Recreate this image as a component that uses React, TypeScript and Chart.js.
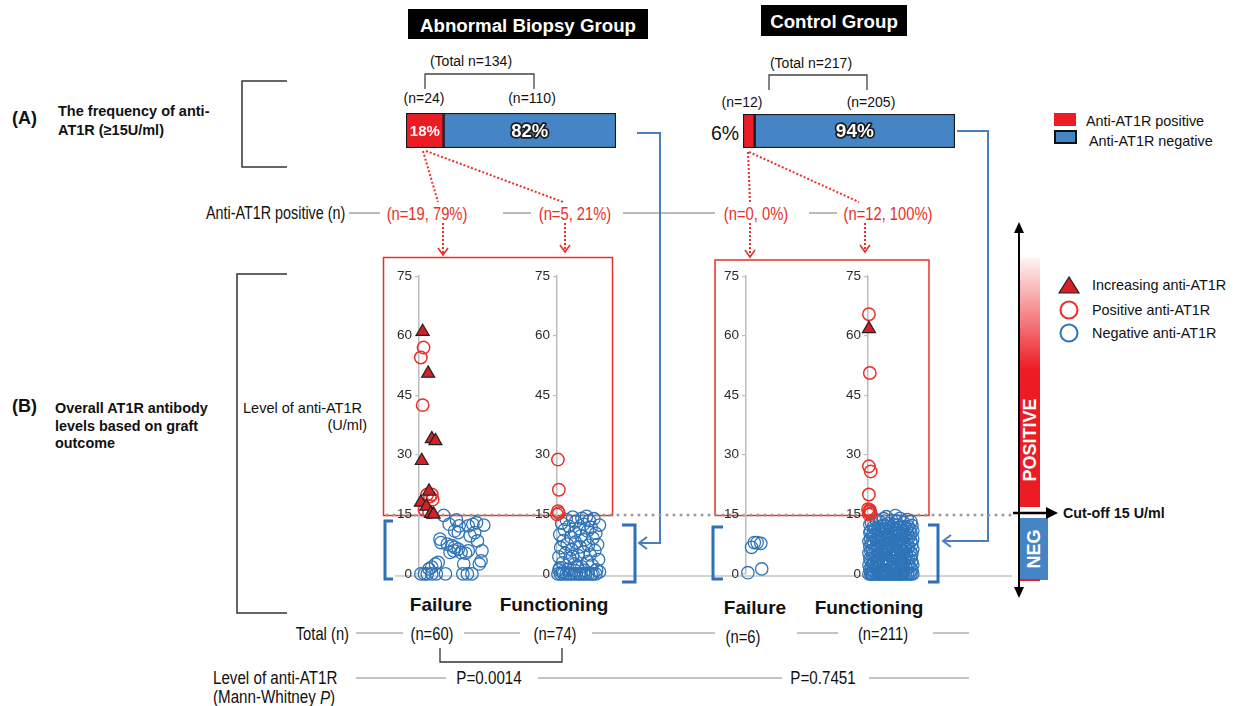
import React, { useEffect, useRef } from 'react';
import { Chart, registerables } from 'chart.js';

Chart.register(...registerables);

const FF = "'Liberation Sans', Arial, Helvetica, sans-serif";

// ---------- data ----------
const groupNames = ['Failure', 'Functioning', 'Failure', 'Functioning'];
const groupTotals = ['(n=60)', '(n=74)', '(n=6)', '(n=211)'];
const positiveLabels = ['(n=19, 79%)', '(n=5, 21%)', '(n=0, 0%)', '(n=12, 100%)'];
const yTicks = [0, 15, 30, 45, 60, 75];
const pValues = ['P=0.0014', 'P=0.7451'];

const abnormalCounts = [24, 110];
const abnormalPct = ['18%', '82%'];
const controlCounts = [12, 205];
const controlPct = ['6%', '94%'];

// Abnormal biopsy – Failure
const failA_increasing = [[0.4, 61], [1.0, 50.5], [1.4, 34], [1.8, 33.5], [0.3, 28.5], [1.1, 20.8], [0.2, 18], [0.8, 17], [1.3, 15.2], [1.6, 15]];
const failA_positive = [[0.5, 57], [0.2, 54.5], [0.4, 42.5], [0.9, 20], [1.4, 20], [1.5, 18.7], [1.2, 19.5], [1.1, 15.5], [0.6, 16.2]];
const failA_negative = [
  [2.7, 14.75], [3.3, 12.5], [4.1, 13.6], [4.4, 12.1], [4.3, 10.4], [3.9, 10.8], [5.4, 12.1], [5.9, 12.5], [6.3, 12.9], [7.1, 12.3],
  [5.6, 9.6], [6.1, 10.4], [6.4, 8.3], [2.3, 8.75], [2.4, 7.9], [3.1, 7.5], [3.6, 7.1], [3.9, 6.7], [4.3, 6.25], [3.8, 5.8],
  [3.4, 5.4], [4.6, 5.4], [5.4, 5.8], [5.1, 5.2], [6.9, 5.8], [6.8, 3.3], [6.6, 2.5], [4.9, 2.5], [1.8, 2.5], [2.1, 2.9],
  [1.1, 1.25], [1.4, 1.7], [0.2, 0], [0.6, 0], [0.9, 0], [1.4, 0], [1.9, 0], [2.9, 0], [4.8, 0], [5.3, 0], [5.8, 0]
];

// Abnormal biopsy – Functioning
const funcA_positive = [[0.1, 28.8], [0.2, 21.2], [0.1, 15.8], [0.2, 15.3], [0.0, 15.0]];
const funcA_negative = [
  [0.1, 0], [0.4, 0], [0.7, 0], [1.0, 0], [1.3, 0], [1.5, 0], [1.8, 0], [2.1, 0], [2.4, 0], [2.6, 0], [2.9, 0], [3.1, 0], [3.4, 0], [3.7, 0], [3.9, 0], [4.2, 0], [0.6, 0.5], [2.0, 0.8],
  [0.3, 1.5], [1.2, 1.2], [2.7, 1.8], [3.8, 2.2], [4.3, 1.0],
  [0.6, 2.8], [1.9, 2.5], [3.3, 3.1], [4.5, 3.6], [1.4, 3.9],
  [0.2, 4.3], [2.3, 4.6], [3.6, 4.8], [0.9, 5.2], [2.9, 5.5],
  [4.1, 5.9], [1.6, 6.1], [0.4, 6.6], [2.5, 6.8], [3.4, 7.2],
  [1.1, 7.5], [4.4, 7.4], [2.0, 8.0], [0.7, 8.4], [3.0, 8.6],
  [3.9, 9.0], [1.5, 9.3], [2.6, 9.6], [0.3, 9.9], [4.2, 10.2],
  [1.9, 10.5], [3.3, 10.8], [0.8, 11.1], [2.4, 11.4], [3.7, 11.7],
  [1.3, 12.0], [4.6, 12.3], [2.9, 12.5], [0.5, 12.8], [2.0, 13.1],
  [3.5, 13.4], [1.0, 13.7], [2.7, 14.0], [4.0, 13.9], [1.7, 14.3],
  [3.2, 14.5], [0.2, 1.0], [2.2, 2.0], [3.0, 0.9], [1.7, 4.4], [4.6, 0.5]
];

// Control – Failure
const failC_negative = [[0.2, 0.3], [1.7, 1.25], [0.6, 6.7], [0.9, 7.9], [1.2, 7.9], [1.6, 7.7]];

// Control – Functioning
const funcC_increasing = [[0.1, 61.7]];
const funcC_positive = [[0.1, 65.4], [0.2, 50.6], [0.1, 27.1], [0.3, 25.8], [0.1, 20], [0.2, 16.1], [0.1, 15.6], [0.3, 15.2], [0.1, 15.0], [0.2, 15.8], [0.0, 16.3]];
const funcC_negative = [
  [0.1, 0], [0.3, 0], [0.5, 0], [0.7, 0], [0.9, 0], [1.1, 0], [1.3, 0], [1.5, 0], [1.7, 0], [1.9, 0], [2.1, 0], [2.3, 0], [2.5, 0], [2.7, 0], [2.9, 0],
  [3.1, 0], [3.3, 0], [3.5, 0], [3.7, 0], [3.9, 0], [4.1, 0], [4.3, 0], [4.5, 0], [4.7, 0], [4.9, 0], [0.4, 0], [1.2, 0], [2.0, 0], [2.8, 0], [3.6, 0],
  [0.6, 0.8], [1.8, 1.1], [3.1, 0.7], [4.2, 1.3], [2.5, 1.4], [0.2, 1.2], [3.8, 0.9], [1.3, 0.6], [4.8, 1.0], [2.9, 1.2], [0.9, 1.4], [3.5, 1.1], [2.1, 0.9],
  [0.4, 1.9], [1.5, 2.2], [2.6, 1.7], [3.7, 2.3], [4.6, 1.8], [0.9, 2.4], [2.0, 2.0], [3.2, 1.6], [4.1, 2.1], [1.2, 1.7], [2.8, 2.4], [0.1, 2.2], [4.9, 2.3],
  [0.7, 2.8], [1.7, 3.1], [2.4, 2.6], [3.4, 3.3], [4.4, 2.9], [0.3, 3.3], [1.1, 2.7], [2.9, 3.0], [3.9, 2.6], [4.8, 3.2], [2.1, 3.4], [0.5, 2.6], [3.6, 2.9],
  [0.2, 3.8], [1.3, 4.1], [2.2, 3.6], [3.0, 4.3], [4.0, 3.7], [4.7, 4.2], [0.8, 4.4], [1.9, 3.9], [2.7, 4.2], [3.5, 3.8], [4.4, 4.0], [1.0, 3.5], [3.2, 3.6],
  [0.5, 4.8], [1.6, 5.1], [2.5, 4.6], [3.3, 5.3], [4.2, 4.9], [0.1, 5.2], [1.1, 4.7], [2.0, 5.4], [2.9, 4.9], [3.8, 4.6], [4.8, 5.0], [1.4, 5.4], [3.6, 5.1],
  [0.3, 5.8], [1.2, 6.2], [2.3, 5.6], [3.1, 6.0], [4.1, 6.3], [4.6, 5.7], [0.8, 6.4], [1.8, 5.9], [2.7, 6.3], [3.7, 5.8], [0.5, 6.0], [2.0, 6.1], [4.9, 6.2],
  [0.2, 6.9], [1.0, 7.2], [1.9, 6.6], [2.8, 7.0], [3.6, 7.3], [4.4, 6.8], [0.6, 7.4], [1.5, 6.9], [2.4, 7.3], [3.3, 6.7], [4.0, 7.1], [4.8, 7.4], [2.1, 7.0],
  [0.4, 7.8], [1.3, 8.1], [2.2, 7.6], [3.0, 8.3], [3.9, 7.9], [4.7, 8.2], [0.9, 8.4], [1.7, 7.7], [2.6, 8.0], [3.5, 8.4], [4.3, 7.6], [0.1, 8.2], [3.2, 7.8],
  [0.3, 8.8], [1.1, 9.1], [2.0, 8.6], [2.9, 9.3], [3.7, 8.9], [4.5, 9.2], [0.7, 9.4], [1.6, 8.7], [2.4, 9.0], [3.3, 8.6], [4.1, 9.4], [4.9, 8.8], [1.9, 9.3],
  [0.5, 9.8], [1.4, 10.1], [2.3, 9.6], [3.1, 10.3], [3.9, 9.9], [4.7, 10.2], [0.2, 10.4], [1.0, 9.6], [1.8, 10.0], [2.7, 10.4], [3.5, 9.7], [4.3, 10.0], [2.5, 9.9],
  [0.3, 10.8], [1.2, 11.1], [2.1, 10.6], [3.0, 11.3], [3.8, 10.9], [4.6, 11.2], [0.8, 11.4], [1.6, 10.7], [2.5, 11.0], [3.4, 10.6], [4.2, 11.4], [4.9, 10.8], [1.9, 11.3],
  [0.6, 11.8], [1.5, 12.1], [2.4, 11.6], [3.2, 12.3], [4.0, 11.9], [4.8, 12.2], [0.2, 12.4], [1.1, 11.6], [2.0, 12.0], [2.8, 12.4], [3.6, 11.7], [4.4, 12.0], [1.8, 12.3],
  [0.4, 12.8], [1.3, 13.1], [2.2, 12.6], [3.1, 13.3], [3.9, 12.9], [4.7, 13.2], [0.9, 13.6], [1.7, 13.9], [2.6, 13.5], [3.5, 14.0], [4.3, 13.7], [2.0, 14.4], [3.0, 14.7]
];

// ---------- styles ----------
const RED = '#e8302a';
const BLUE = '#2f74b8';
const TRI_FILL = '#d42027';
const BAR_RED = '#ed1c24';
const BAR_BLUE = '#4585c5';
const CONNECT = '#4a7ebb';

const toPts = (arr: number[][]) => arr.map(([x, y]) => ({ x, y }));
const negDs = (arr: number[][]) => ({ data: toPts(arr), pointStyle: 'circle', pointRadius: 6.2, borderColor: BLUE, backgroundColor: 'rgba(0,0,0,0)', borderWidth: 1.3, clip: false });
const posDs = (arr: number[][]) => ({ data: toPts(arr), pointStyle: 'circle', pointRadius: 6.2, borderColor: RED, backgroundColor: 'rgba(0,0,0,0)', borderWidth: 1.5, clip: false });
const incDs = (arr: number[][]) => ({ data: toPts(arr), pointStyle: 'triangle', pointRadius: 7.5, borderColor: '#222', backgroundColor: TRI_FILL, borderWidth: 1.2, clip: false });

const panelAxisX = [419, 557, 746, 868];
const panels = [
  [incDs(failA_increasing), posDs(failA_positive), negDs(failA_negative)],
  [posDs(funcA_positive), negDs(funcA_negative)],
  [negDs(failC_negative)],
  [incDs(funcC_increasing), posDs(funcC_positive), negDs(funcC_negative)],
];

const AXW = 30;
const PW = 100;

function ScatterPanel({ axisX, datasets }: { axisX: number; datasets: any[] }) {
  const ref = useRef<HTMLCanvasElement | null>(null);
  useEffect(() => {
    const chart = new Chart(ref.current as HTMLCanvasElement, {
      type: 'scatter',
      data: { datasets },
      options: {
        animation: false,
        responsive: false,
        events: [],
        layout: { padding: { top: 10, bottom: 10, left: 0, right: 0 } },
        plugins: { legend: { display: false }, tooltip: { enabled: false } },
        scales: {
          x: { type: 'linear', min: 0, max: 10, display: false },
          y: {
            min: 0,
            max: 75,
            afterBuildTicks: (s: any) => { s.ticks = yTicks.map((v) => ({ value: v })); },
            afterFit: (s: any) => { s.width = AXW; },
            ticks: { color: '#2a2a2a', padding: 3, font: { family: FF, size: 13.5 } },
            grid: { drawOnChartArea: false, tickLength: 4, color: '#bdbdbd', lineWidth: 1.2 },
            border: { color: '#bdbdbd', width: 1.5 },
          },
        },
      } as any,
    });
    return () => chart.destroy();
  }, []);
  return (
    <canvas
      ref={ref}
      width={AXW + PW}
      height={320}
      style={{ position: 'absolute', left: axisX - AXW, top: 265, width: AXW + PW, height: 320 }}
    />
  );
}

type BarLabel = { text: string; size: number; outline: boolean } | null;

function RatioBar({ left, top, width, height, counts, labels }: { left: number; top: number; width: number; height: number; counts: number[]; labels: BarLabel[] }) {
  const ref = useRef<HTMLCanvasElement | null>(null);
  useEffect(() => {
    const labelPlugin = {
      id: 'barLabels',
      afterDatasetsDraw(chart: any) {
        const ctx = chart.ctx;
        labels.forEach((it, i) => {
          if (!it) return;
          const el = chart.getDatasetMeta(i).data[0];
          const cx = (el.x + el.base) / 2;
          const cy = el.y + 1;
          ctx.save();
          ctx.font = `bold ${it.size}px ${FF}`;
          ctx.textAlign = 'center';
          ctx.textBaseline = 'middle';
          if (it.outline) {
            ctx.lineWidth = 3.5;
            ctx.lineJoin = 'round';
            ctx.strokeStyle = '#1c1c1c';
            ctx.strokeText(it.text, cx, cy);
          }
          ctx.fillStyle = '#ffffff';
          ctx.fillText(it.text, cx, cy);
          ctx.restore();
        });
      },
    };
    const total = counts.reduce((a, b) => a + b, 0);
    const chart = new Chart(ref.current as HTMLCanvasElement, {
      type: 'bar',
      data: {
        labels: [''],
        datasets: [
          { data: [counts[0]], backgroundColor: BAR_RED, borderColor: '#1a1a1a', borderWidth: 1.5, borderSkipped: false, barPercentage: 1, categoryPercentage: 1 },
          { data: [counts[1]], backgroundColor: BAR_BLUE, borderColor: '#1a1a1a', borderWidth: 1.5, borderSkipped: false, barPercentage: 1, categoryPercentage: 1 },
        ],
      },
      options: {
        animation: false,
        responsive: false,
        events: [],
        indexAxis: 'y',
        layout: { padding: 0 },
        plugins: { legend: { display: false }, tooltip: { enabled: false } },
        scales: {
          x: { stacked: true, min: 0, max: total, display: false },
          y: { stacked: true, display: false },
        },
      } as any,
      plugins: [labelPlugin],
    });
    return () => chart.destroy();
  }, []);
  return <canvas ref={ref} width={width} height={height} style={{ position: 'absolute', left, top, width, height }} />;
}

function Txt({ x, y, s, b, a, c, n, it, children }: any) {
  const tr = n ? `translate(${x},${y}) scale(0.82,1)` : `translate(${x},${y})`;
  return (
    <text
      transform={tr}
      fontFamily={FF}
      fontSize={s}
      fontWeight={b ? 'bold' : 'normal'}
      fontStyle={it ? 'italic' : 'normal'}
      textAnchor={a || 'start'}
      dominantBaseline="central"
      fill={c || '#111'}
    >
      {children}
    </text>
  );
}

export default function App() {
  const redLabelX = [427, 575, 756, 888];
  const totalX = [432, 555, 743, 883];
  const totalY = [633, 633, 636, 633];
  const groupX = [441, 554, 755, 869];
  const groupY = [604, 604, 607, 607];
  return (
    <div style={{ position: 'absolute', left: 0, top: 0, width: 1237, height: 706, background: '#fff', overflow: 'hidden' }}>
      <svg width={1237} height={706} style={{ position: 'absolute', left: 0, top: 0 }}>
        <defs>
          <linearGradient id="posGrad" x1="0" y1="0" x2="0" y2="1">
            <stop offset="0" stopColor="#ed1c24" stopOpacity="0.04" />
            <stop offset="0.45" stopColor="#ed1c24" stopOpacity="1" />
            <stop offset="1" stopColor="#ed1c24" stopOpacity="1" />
          </linearGradient>
        </defs>

        {/* titles */}
        <rect x={408} y={9} width={240} height={30} fill="#000" />
        <Txt x={528} y={25} s={18.7} b a="middle" c="#fff">Abnormal Biopsy Group</Txt>
        <rect x={761} y={5} width={146} height={31} fill="#000" />
        <Txt x={834} y={21} s={18.7} b a="middle" c="#fff">Control Group</Txt>

        {/* totals over bars */}
        <Txt x={471} y={61} s={14} a="middle">(Total n=134)</Txt>
        <path d="M425,89 V74 H534 V89" stroke="#444" strokeWidth={1.3} fill="none" />
        <Txt x={424} y={98} s={14} a="middle">(n={abnormalCounts[0]})</Txt>
        <Txt x={532} y={98} s={14} a="middle">(n={abnormalCounts[1]})</Txt>
        <Txt x={811} y={63} s={14} a="middle">(Total n=217)</Txt>
        <path d="M769,90 V75 H867 V90" stroke="#444" strokeWidth={1.3} fill="none" />
        <Txt x={742} y={102} s={14} a="middle">(n={controlCounts[0]})</Txt>
        <Txt x={871} y={102} s={14} a="middle">(n={controlCounts[1]})</Txt>
        <Txt x={725} y={133} s={19.5} a="middle">{controlPct[0]}</Txt>

        {/* legend top right */}
        <rect x={1054} y={113} width={22} height={13} fill={BAR_RED} />
        <Txt x={1086} y={121} s={14.4}>Anti-AT1R positive</Txt>
        <rect x={1055} y={131} width={21} height={12} fill={BAR_BLUE} stroke="#111" strokeWidth={2} />
        <Txt x={1089} y={141} s={14.4}>Anti-AT1R negative</Txt>

        {/* (A) */}
        <Txt x={12} y={118} s={18} b>(A)</Txt>
        <Txt x={58} y={111} s={14.5} b>The frequency of anti-</Txt>
        <Txt x={58} y={130} s={14.5} b>AT1R (≥15U/ml)</Txt>
        <path d="M287,81 H242 V167 H287" stroke="#333" strokeWidth={1.5} fill="none" />

        {/* Anti-AT1R positive row */}
        <Txt x={206} y={213} s={17.5} n>Anti-AT1R positive (n)</Txt>
        {[[349, 380], [503, 531], [623, 715], [809, 837]].map(([a, b], i) => (
          <line key={'pr' + i} x1={a} x2={b} y1={213} y2={213} stroke="#777" strokeWidth={1} />
        ))}
        {positiveLabels.map((t, i) => (
          <Txt key={'pl' + i} x={redLabelX[i]} y={213} s={18} n a="middle" c={RED}>{t}</Txt>
        ))}

        {/* red dotted arrows */}
        <g stroke={RED} strokeWidth={2} strokeDasharray="2 2" fill="none">
          <path d="M423,151 L438,202" />
          <path d="M426,151 L563,202" />
          <path d="M748,152 L750,202" />
          <path d="M749,152 L859,202" />
          <path d="M443,223 L443,254" />
          <path d="M565,223 L565,251" />
          <path d="M750,223 L750,256" />
          <path d="M865,223 L865,251" />
        </g>
        <g stroke={RED} strokeWidth={1.6} fill="none">
          <polyline points="438,248 443,255 448,248" />
          <polyline points="560,245 565,252 570,245" />
          <polyline points="745,250 750,257 755,250" />
          <polyline points="860,245 865,252 870,245" />
        </g>

        {/* blue connectors */}
        <g stroke={CONNECT} strokeWidth={2} fill="none">
          <path d="M637,133 H660 V543 H640" />
          <polyline points="647,537 639,543 647,549" />
          <path d="M957,131 H988 V541 H944" />
          <polyline points="951,535 943,541 951,547" />
        </g>

        {/* red boxes */}
        <rect x={383.5} y={257.5} width={229} height={258} stroke={RED} strokeWidth={1.5} fill="none" />
        <rect x={715} y={260} width={214} height={255.5} stroke={RED} strokeWidth={1.5} fill="none" />

        {/* baseline and cut-off dotted line */}
        <line x1={395} x2={1012} y1={576} y2={576} stroke="#aaa" strokeWidth={1.2} />
        <line x1={387} x2={1012} y1={515} y2={515} stroke="#999" strokeWidth={3} strokeDasharray="0 7" strokeLinecap="round" />

        {/* blue brackets */}
        <g stroke="#2e6fb7" strokeWidth={3} fill="none">
          <path d="M393,521 H385 V579 H393" />
          <path d="M622,525 H635 V582 H622" />
          <path d="M723,527 H713 V579 H723" />
          <path d="M928,525 H938 V582 H928" />
        </g>

        {/* (B) */}
        <Txt x={12} y={406} s={18} b>(B)</Txt>
        <Txt x={55} y={408} s={14.4} b>Overall AT1R antibody</Txt>
        <Txt x={55} y={425.5} s={14.4} b>levels based on graft</Txt>
        <Txt x={55} y={443} s={14.4} b>outcome</Txt>
        <path d="M287,274 H237 V613 H287" stroke="#333" strokeWidth={1.5} fill="none" />
        <Txt x={243} y={408} s={14.5}>Level of anti-AT1R</Txt>
        <Txt x={367} y={425} s={14.5} a="end">(U/ml)</Txt>

        {/* group names */}
        {groupNames.map((g, i) => (
          <Txt key={'g' + i} x={groupX[i]} y={groupY[i]} s={19} b a="middle">{g}</Txt>
        ))}

        {/* totals row */}
        <Txt x={349} y={633} s={18} n a="end">Total (n)</Txt>
        {[[356, 403], [464, 520], [592, 715], [797, 838], [933, 969]].map(([a, b], i) => (
          <line key={'tr' + i} x1={a} x2={b} y1={633} y2={633} stroke="#888" strokeWidth={1} />
        ))}
        {groupTotals.map((t, i) => (
          <Txt key={'t' + i} x={totalX[i]} y={totalY[i]} s={18} n a="middle">{t}</Txt>
        ))}
        <path d="M440,648 V662 H562 V648" stroke="#333" strokeWidth={1.3} fill="none" />

        {/* p-value row */}
        <Txt x={213} y={678} s={18.5} n>Level of anti-AT1R</Txt>
        <text transform="translate(213,697) scale(0.82,1)" fontFamily={FF} fontSize={18.5} dominantBaseline="central" fill="#111">
          (Mann-Whitney <tspan fontStyle="italic">P</tspan>)
        </text>
        {[[356, 446], [538, 782], [869, 969]].map(([a, b], i) => (
          <line key={'lr' + i} x1={a} x2={b} y1={678} y2={678} stroke="#888" strokeWidth={1} />
        ))}
        <Txt x={489} y={678} s={18.5} n a="middle">{pValues[0]}</Txt>
        <Txt x={823} y={678} s={18.5} n a="middle">{pValues[1]}</Txt>

        {/* right side scale */}
        <rect x={1019} y={257} width={21} height={250} fill="url(#posGrad)" />
        <text transform="translate(1030,440) rotate(-90)" fontFamily={FF} fontSize={18} fontWeight="bold" textAnchor="middle" dominantBaseline="central" fill="#fff">POSITIVE</text>
        <rect x={1019} y={518} width={29} height={62} fill={BAR_BLUE} />
        <rect x={1019} y={579} width={21} height={2} fill={BAR_RED} />
        <text transform="translate(1034,549) rotate(-90)" fontFamily={FF} fontSize={18} fontWeight="bold" textAnchor="middle" dominantBaseline="central" fill="#fff">NEG</text>
        <line x1={1019} x2={1019} y1={230} y2={590} stroke="#000" strokeWidth={2} />
        <polygon points="1019,222 1014,233 1024,233" fill="#000" />
        <polygon points="1019,598 1014,587 1024,587" fill="#000" />
        <line x1={1013} x2={1050} y1={513} y2={513} stroke="#000" strokeWidth={2.5} />
        <polygon points="1058,513 1046,507 1046,519" fill="#000" />
        <Txt x={1063} y={513} s={14.3} b>Cut-off 15 U/ml</Txt>

        {/* right legend */}
        <polygon points="1069,277 1059,293 1079,293" fill={TRI_FILL} stroke="#222" strokeWidth={1.2} />
        <Txt x={1092} y={285} s={14.4}>Increasing anti-AT1R</Txt>
        <circle cx={1069} cy={310} r={8.5} stroke={RED} strokeWidth={2} fill="none" />
        <Txt x={1092} y={310} s={14.4}>Positive anti-AT1R</Txt>
        <circle cx={1069} cy={333} r={8.5} stroke={BLUE} strokeWidth={2} fill="none" />
        <Txt x={1092} y={333} s={14.4}>Negative anti-AT1R</Txt>
      </svg>

      <RatioBar
        left={406}
        top={113}
        width={210}
        height={35}
        counts={abnormalCounts}
        labels={[{ text: abnormalPct[0], size: 15, outline: false }, { text: abnormalPct[1], size: 18.5, outline: true }]}
      />
      <RatioBar
        left={743}
        top={114}
        width={212}
        height={34}
        counts={controlCounts}
        labels={[null, { text: controlPct[1], size: 19, outline: true }]}
      />

      {panels.map((ds, i) => (
        <ScatterPanel key={i} axisX={panelAxisX[i]} datasets={ds} />
      ))}
    </div>
  );
}
